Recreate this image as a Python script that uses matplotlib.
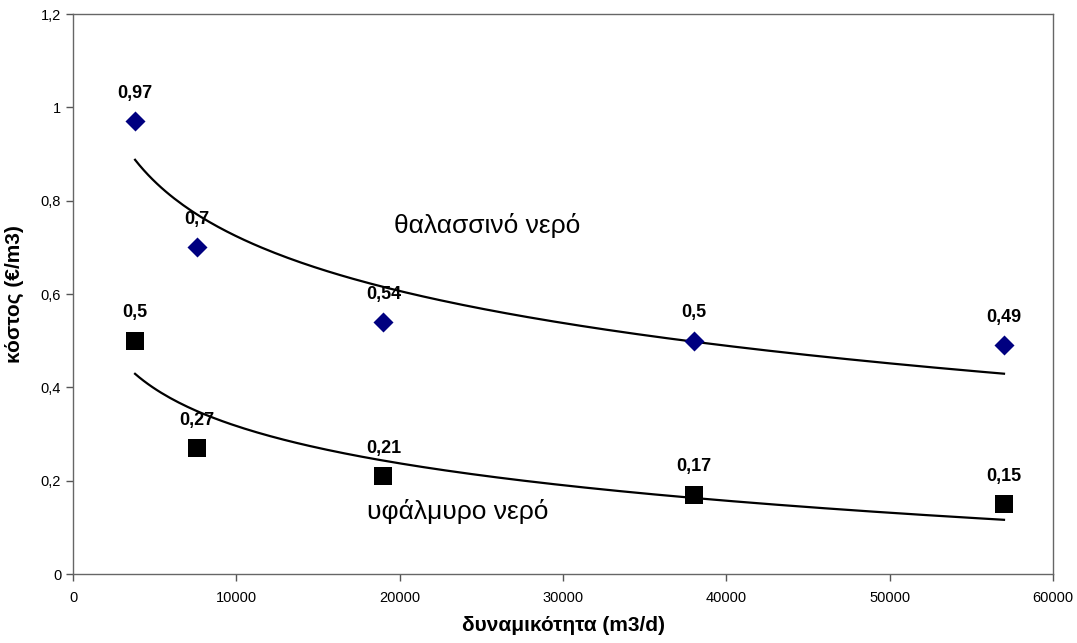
import numpy as np
import matplotlib
matplotlib.use("Agg")
import matplotlib.pyplot as plt
from matplotlib.ticker import FuncFormatter

plt.rcParams['font.family'] = ['Liberation Sans', 'DejaVu Sans']

# capacity (m3/d) and cost (euro/m3)
capacity = [3800, 7600, 19000, 38000, 57000]
sea_cost = [0.97, 0.7, 0.54, 0.5, 0.49]
brackish_cost = [0.5, 0.27, 0.21, 0.17, 0.15]


def fmt(v):
    s = ('%g' % v).replace('.', ',')
    return s


def log_trend(x, y):
    # excel logarithmic trendline: y = a + b*ln(x)
    b, a = np.polyfit(np.log(x), y, 1)
    xs = np.linspace(min(x), max(x), 200)
    return xs, a + b * np.log(xs)


fig = plt.figure(figsize=(10.77, 6.43), dpi=100)
ax = fig.add_axes([73 / 1077, 1 - 574 / 643, 980 / 1077, 560 / 643])

xs, ys = log_trend(capacity, sea_cost)
ax.plot(xs, ys, color='black', lw=1.6)
xs, ys = log_trend(capacity, brackish_cost)
ax.plot(xs, ys, color='black', lw=1.6)

ax.scatter(capacity, sea_cost, marker='D', s=104, color='#000080', lw=0, zorder=3)
ax.scatter(capacity, brackish_cost, marker='s', s=150, color='black', lw=0, zorder=3)

for x, y in zip(capacity, sea_cost):
    ax.annotate(fmt(y), (x, y), xytext=(0, 28), textcoords='offset pixels',
                ha='center', va='center', fontsize=13, fontweight='bold')
for x, y in zip(capacity, brackish_cost):
    ax.annotate(fmt(y), (x, y), xytext=(0, 28), textcoords='offset pixels',
                ha='center', va='center', fontsize=13, fontweight='bold')

ax.text(19650, 0.746, 'θαλασσινό νερό', fontsize=19, va='center', ha='left')
ax.text(18000, 0.133, 'υφάλμυρο νερό', fontsize=19, va='center', ha='left')

ax.set_xlim(0, 60000)
ax.set_ylim(0, 1.2)
ax.set_xticks(np.arange(0, 60001, 10000))
ax.set_yticks(np.arange(0, 1.21, 0.2))
ax.yaxis.set_major_formatter(FuncFormatter(lambda v, p: fmt(round(v, 1))))
ax.xaxis.set_major_formatter(FuncFormatter(lambda v, p: '%d' % v))
ax.tick_params(direction='out', length=5, width=1, colors='#555555',
               labelcolor='black', labelsize=10.5)
ax.tick_params(axis='x', pad=7)
for sp in ax.spines.values():
    sp.set_color('#666666')
    sp.set_linewidth(1)

ax.set_xlabel('δυναμικότητα (m3/d)', fontsize=15, fontweight='bold', labelpad=8)
ax.set_ylabel('κόστος (€/m3)', fontsize=15, fontweight='bold', labelpad=12)

fig.savefig('out.png', dpi=100)
